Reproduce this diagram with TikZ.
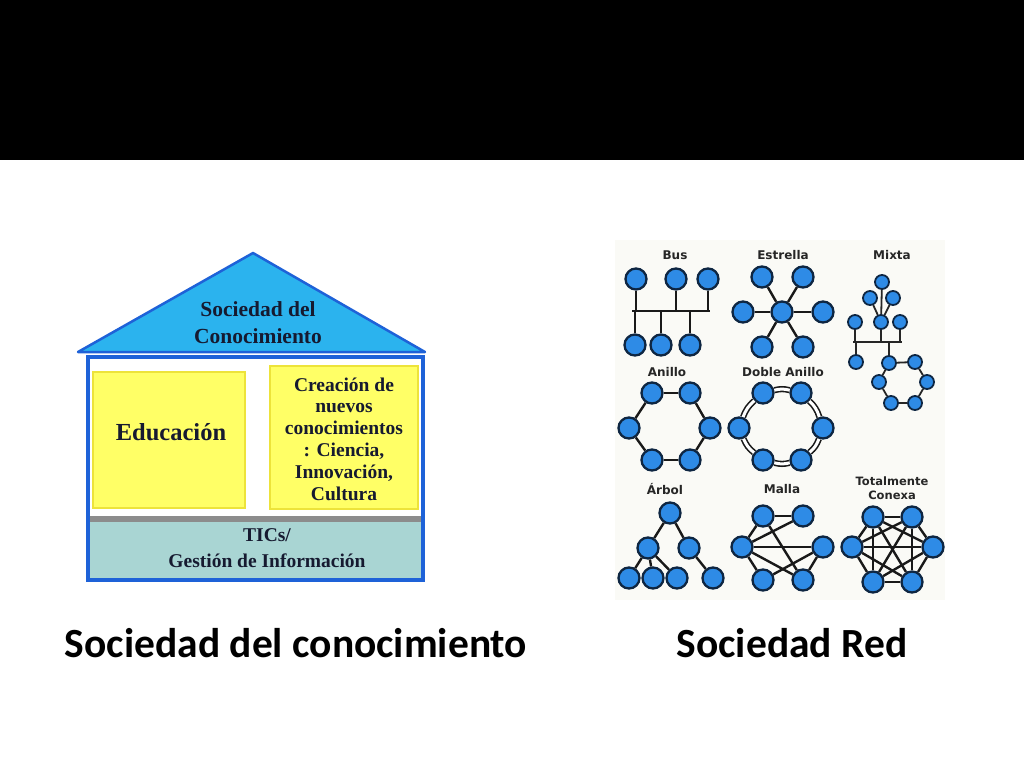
\documentclass[tikz,border=0pt]{standalone}
\usepackage{fontspec}
\setmainfont{Liberation Serif}
\newfontfamily\capfont{Carlito}
\newfontfamily\netfont{DejaVu Sans}
\definecolor{roofblue}{HTML}{2BB3EE}
\definecolor{wallblue}{HTML}{1E62D8}
\definecolor{boxyellow}{HTML}{FFFF66}
\definecolor{boxedge}{HTML}{EDE33A}
\definecolor{ticteal}{HTML}{A9D5D3}
\definecolor{ticgray}{HTML}{8C8C8C}
\definecolor{nodeblue}{HTML}{2E8BE6}
\definecolor{nodeedge}{HTML}{0E2642}
\definecolor{netbg}{HTML}{FAFAF6}
\definecolor{inktext}{HTML}{161A30}
\tikzset{
	net/.style={circle,draw=nodeedge,fill=nodeblue,line width=2.3,minimum size=21,inner sep=0},
	netsmall/.style={net,minimum size=14,line width=1.8},
	link/.style={line width=2.4,draw=black!90},
	linksmall/.style={line width=1.8,draw=black!85},
	netlabel/.style={font=\netfont\bfseries\fontsize{12}{13}\selectfont,text=black!85,align=center},
	housetext/.style={font=\bfseries\fontsize{19.5}{21.8}\selectfont,text=inktext,align=center},
	captext/.style={font=\capfont\bfseries\fontsize{41.5}{42}\selectfont,anchor=base},
}
\begin{document}
\begin{tikzpicture}[x=1pt,y=-1pt]
		\useasboundingbox (0,0) rectangle (1024,768);
		\fill [black] (0,0) rectangle (1024,160);
		\fill [roofblue,draw=wallblue,line width=2.5,line join=round] (78,352) -- (253,253) -- (425,352) -- cycle;
		\draw [wallblue,fill=white,line width=4] (88,357) rectangle (423,580);
		\draw [boxedge,fill=boxyellow,line width=1.5] (93,372) rectangle (245,508);
		\draw [boxedge,fill=boxyellow,line width=1.5] (270,366) rectangle (418,509);
		\fill [ticgray] (90,516) rectangle (421,522);
		\fill [ticteal] (90,522) rectangle (421,578);
		\node [housetext,font=\bfseries\fontsize{21.5}{27}\selectfont] (roof) at (258,323) {Sociedad del\\Conocimiento};
		\node [housetext,font=\bfseries\fontsize{24.5}{26}\selectfont] (edu) at (171,432) {Educación};
		\node [housetext] (crea) at (344,439) {Creación de\\nuevos\\conocimientos\\: Ciencia,\\Innovación,\\Cultura};
		\node [housetext,font=\bfseries\fontsize{19.5}{26}\selectfont] (tics) at (267,548) {TICs/\\Gestión de Información};
		\fill [netbg] (615,240) rectangle (945,600);
		\node [netlabel] (lbus) at (675,255) {Bus};
		\node [netlabel] (lstar) at (783,255) {Estrella};
		\node [netlabel] (lmix) at (892,255) {Mixta};
		\node [netlabel] (lring) at (667,372) {Anillo};
		\node [netlabel] (ldring) at (783,372) {Doble Anillo};
		\node [netlabel] (ltree) at (665,489) {Árbol};
		\node [netlabel] (lmesh) at (782,489) {Malla};
		\node [netlabel,font=\netfont\bfseries\fontsize{11.5}{14}\selectfont] (lfull) at (892,488) {Totalmente\\Conexa};
		\node [net] (b1) at (636,279) {};
		\node [net] (b2) at (676,279) {};
		\node [net] (b3) at (708,279) {};
		\node [net] (b4) at (635,345) {};
		\node [net] (b5) at (661,345) {};
		\node [net] (b6) at (690,345) {};
		\coordinate (busL) at (632,311);
		\coordinate (busR) at (710,311);
		\draw [link] (busL) -- (busR);
		\foreach \n in {b1,b2,b3,b4,b5,b6}
			\draw [link] (\n) -- (\n |- busL);
		\node [net] (s0) at (782,312) {};
		\node [net] (s1) at (762,277) {};
		\node [net] (s2) at (803,277) {};
		\node [net] (s3) at (823,312) {};
		\node [net] (s4) at (803,347) {};
		\node [net] (s5) at (762,347) {};
		\node [net] (s6) at (743,312) {};
		\foreach \n in {s1,s2,s3,s4,s5,s6}
			\draw [link] (s0) -- (\n);
		\node [netsmall] (m1) at (882,282) {};
		\node [netsmall] (m2) at (870,298) {};
		\node [netsmall] (m3) at (893,298) {};
		\node [netsmall] (m4) at (855,322) {};
		\node [netsmall] (m5) at (881,322) {};
		\node [netsmall] (m6) at (900,322) {};
		\node [netsmall] (m7) at (856,362) {};
		\node [netsmall] (r1) at (889,363) {};
		\node [netsmall] (r2) at (915,362) {};
		\node [netsmall] (r3) at (927,382) {};
		\node [netsmall] (r4) at (915,403) {};
		\node [netsmall] (r5) at (891,403) {};
		\node [netsmall] (r6) at (879,382) {};
		\coordinate (mbusL) at (853,342);
		\coordinate (mbusR) at (902,342);
		\draw [linksmall] (mbusL) -- (mbusR);
		\foreach \n in {m4,m5,m6,m7,r1}
			\draw [linksmall] (\n) -- (\n |- mbusL);
		\foreach \n in {m1,m2,m3}
			\draw [linksmall] (\n) -- (m5);
		\foreach \a/\b in {r1/r2,r2/r3,r3/r4,r4/r5,r5/r6,r6/r1}
			\draw [linksmall] (\a) -- (\b);
		\node [net] (a1) at (652,393) {};
		\node [net] (a2) at (690,393) {};
		\node [net] (a3) at (710,428) {};
		\node [net] (a4) at (690,460) {};
		\node [net] (a5) at (652,460) {};
		\node [net] (a6) at (629,428) {};
		\foreach \a/\b in {a1/a2,a2/a3,a3/a4,a4/a5,a5/a6,a6/a1}
			\draw [link] (\a) -- (\b);
		\node [net] (d1) at (763,393) {};
		\node [net] (d2) at (801,393) {};
		\node [net] (d3) at (823,428) {};
		\node [net] (d4) at (801,460) {};
		\node [net] (d5) at (763,460) {};
		\node [net] (d6) at (739,428) {};
		\foreach \a/\b in {d1/d2,d2/d3,d3/d4,d4/d5,d5/d6,d6/d1}
			\draw [line width=1.6,double=white,double distance=3,draw=black!90] (\a) to[bend left=14] (\b);
		\node [net] (t1) at (670,513) {};
		\node [net] (t2) at (648,548) {};
		\node [net] (t3) at (689,548) {};
		\node [net] (t4) at (629,578) {};
		\node [net] (t5) at (653,578) {};
		\node [net] (t6) at (677,578) {};
		\node [net] (t7) at (713,578) {};
		\foreach \a/\b in {t1/t2,t1/t3,t2/t4,t2/t5,t2/t6,t3/t7}
			\draw [link] (\a) -- (\b);
		\node [net] (g1) at (763,516) {};
		\node [net] (g2) at (803,516) {};
		\node [net] (g3) at (742,547) {};
		\node [net] (g4) at (823,547) {};
		\node [net] (g5) at (763,580) {};
		\node [net] (g6) at (803,580) {};
		\foreach \a/\b in {g1/g2,g1/g3,g1/g6,g3/g2,g3/g4,g3/g5,g3/g6,g4/g5,g4/g6}
			\draw [link] (\a) -- (\b);
		\node [net] (k1) at (873,517) {};
		\node [net] (k2) at (912,517) {};
		\node [net] (k3) at (933,547) {};
		\node [net] (k4) at (912,582) {};
		\node [net] (k5) at (873,582) {};
		\node [net] (k6) at (852,547) {};
		\foreach \a/\b in {1/2,1/3,1/4,1/5,1/6,2/3,2/4,2/5,2/6,3/4,3/5,3/6,4/5,4/6,5/6}
			\draw [link] (k\a) -- (k\b);
		\node [captext] (capL) at (296,657) {Sociedad del conocimiento};
		\node [captext] (capR) at (792,657) {Sociedad Red};
	\end{tikzpicture}
\end{document}
